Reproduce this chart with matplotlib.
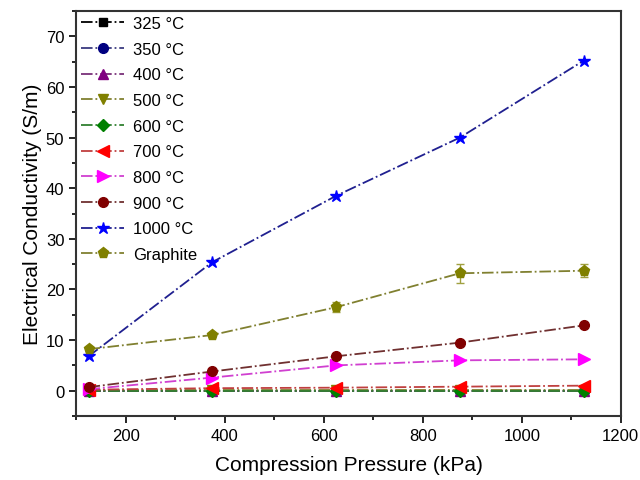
import matplotlib
matplotlib.use('Agg')
import matplotlib.pyplot as plt
from matplotlib.ticker import MultipleLocator

plt.rcParams['font.family'] = ['Liberation Sans', 'DejaVu Sans']

# Compression pressure (kPa)
pressure = [125, 375, 625, 875, 1125]

labels = ['325 °C', '350 °C', '400 °C', '500 °C', '600 °C',
          '700 °C', '800 °C', '900 °C', '1000 °C', 'Graphite']

# electrical conductivity (S/m)
c325 = [0.0, 0.0, 0.0, 0.0, 0.0]
c350 = [0.0, 0.0, 0.0, 0.0, 0.0]
c400 = [0.0, 0.0, 0.0, 0.0, 0.0]
c500 = [0.05, 0.05, 0.05, 0.05, 0.05]
c600 = [-0.1, -0.1, -0.1, -0.1, -0.1]
c700 = [0.2, 0.5, 0.6, 0.8, 1.0]
c800 = [0.3, 2.6, 5.0, 6.0, 6.2]
c900 = [0.7, 3.8, 6.8, 9.5, 12.9]
c1000 = [6.8, 25.4, 38.5, 50.0, 65.2]
graphite = [8.2, 11.0, 16.5, 23.2, 23.7]
graphite_err = [0.4, 0.4, 1.0, 1.9, 1.3]

series = [c325, c350, c400, c500, c600, c700, c800, c900, c1000, graphite]
errs = [None] * 9 + [graphite_err]

marker_colors = ['black', '#000080', '#800080', '#808000', '#008000',
                 '#ff0000', '#ff00ff', '#800000', '#0000ff', '#808000']
line_colors = ['black', '#3a3a80', '#7a307a', '#808030', '#308030',
               '#c04040', '#d040d0', '#703030', '#202090', '#808030']
markers = ['s', 'o', '^', 'v', 'D', '<', '>', 'o', '*', 'p']
msizes = [6, 7, 7, 7, 6, 8, 8, 7, 9, 8]

fig = plt.figure(figsize=(6.4, 4.81), dpi=100)
ax = fig.add_axes([0.119, 0.133, 0.851, 0.842])

for y, e, lab, mc, lc, m, ms in zip(series, errs, labels, marker_colors,
                                    line_colors, markers, msizes):
    if e is not None:
        ax.errorbar(pressure, y, yerr=e, fmt='none', ecolor='#a0a040',
                    elinewidth=1, capsize=3, capthick=1, zorder=2)
    ax.plot(pressure, y, linestyle='-.', color=lc, linewidth=1.3,
            marker=m, markersize=ms, markerfacecolor=mc,
            markeredgecolor=mc, label=lab, zorder=3)

ax.set_xlim(100, 1200)
ax.set_ylim(-5, 75)
ax.xaxis.set_major_locator(MultipleLocator(200))
ax.xaxis.set_minor_locator(MultipleLocator(100))
ax.yaxis.set_major_locator(MultipleLocator(10))
ax.yaxis.set_minor_locator(MultipleLocator(5))
ax.tick_params(which='major', direction='out', length=5, width=1.2,
               labelsize=12, top=False, right=False)
ax.tick_params(which='minor', direction='out', length=3, width=1.2,
               top=False, right=False)
for sp in ax.spines.values():
    sp.set_linewidth(1.5)
    sp.set_color('#333333')

ax.set_xlabel('Compression Pressure (kPa)', fontsize=15, labelpad=9)
ax.set_ylabel('Electrical Conductivity (S/m)', fontsize=15, labelpad=3)

leg = ax.legend(loc='upper left', frameon=False, fontsize=12,
                handlelength=2.6, labelspacing=0.64, borderaxespad=0.0,
                borderpad=0.3, handletextpad=0.5)

fig.savefig('out.png', dpi=100)
